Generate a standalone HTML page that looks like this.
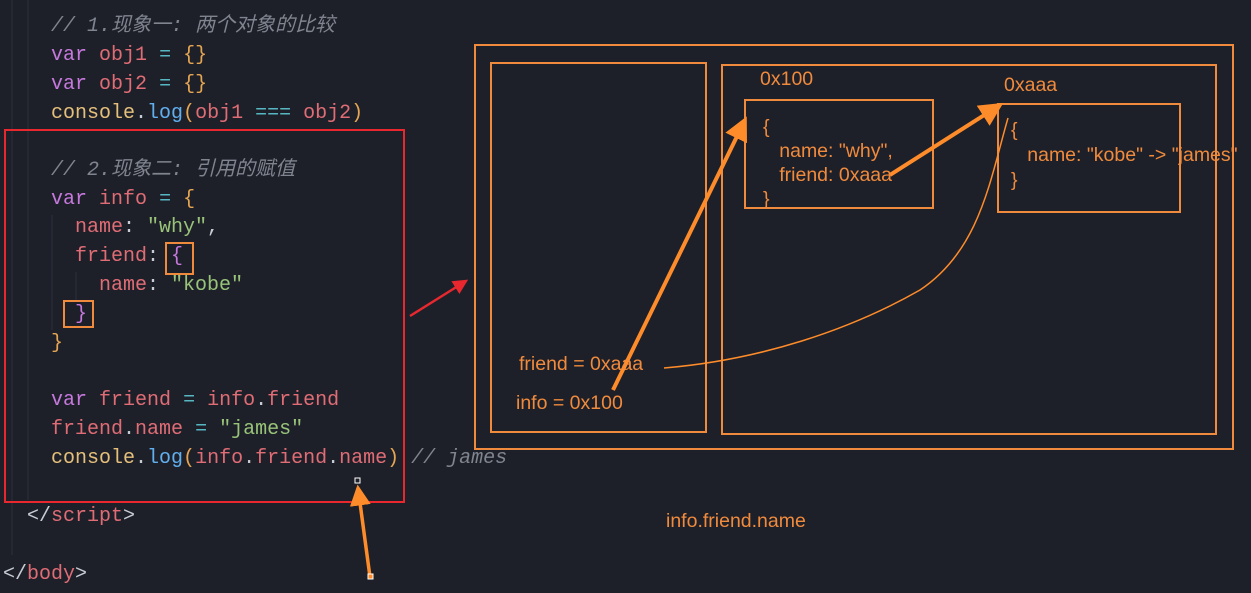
<!DOCTYPE html>
<html><head><meta charset="utf-8"><style>
body{margin:0;width:1251px;height:593px;background:#1e2029;overflow:hidden;position:relative;font-family:"Liberation Mono","Noto Sans CJK SC",monospace}
.l{position:absolute;font-size:20px;white-space:pre;line-height:29px;color:#c8ccd4}
.k{color:#c678dd}.v{color:#e06c75}.o{color:#56b6c2}.b{color:#e5a552}.s{color:#98c379}.f{color:#61afef}.y{color:#e5c07b}.c{color:#7f848e;font-style:italic}.p{color:#c8ccd4}
.d{position:absolute;font-family:"Liberation Sans","Noto Sans CJK SC",sans-serif;font-size:19.5px;color:#f08a3c;white-space:pre;line-height:24px}
</style></head><body>
<div>
<div class="l" style="left:51px;top:12px"><span class="c">// 1.现象一: 两个对象的比较</span></div>
<div class="l" style="left:51px;top:41px"><span class="k">var</span> <span class="v">obj1</span> <span class="o">=</span> <span class="b">{}</span></div>
<div class="l" style="left:51px;top:70px"><span class="k">var</span> <span class="v">obj2</span> <span class="o">=</span> <span class="b">{}</span></div>
<div class="l" style="left:51px;top:99px"><span class="y">console</span>.<span class="f">log</span><span class="b">(</span><span class="v">obj1</span> <span class="o">===</span> <span class="v">obj2</span><span class="b">)</span></div>
<div class="l" style="left:51px;top:156px"><span class="c">// 2.现象二: 引用的赋值</span></div>
<div class="l" style="left:51px;top:185px"><span class="k">var</span> <span class="v">info</span> <span class="o">=</span> <span class="b">{</span></div>
<div class="l" style="left:75px;top:213px"><span class="v">name</span>: <span class="s">"why"</span>,</div>
<div class="l" style="left:75px;top:242px"><span class="v">friend</span>: <span class="k">{</span></div>
<div class="l" style="left:99px;top:271px"><span class="v">name</span>: <span class="s">"kobe"</span></div>
<div class="l" style="left:75px;top:300px"><span class="k">}</span></div>
<div class="l" style="left:51px;top:329px"><span class="b">}</span></div>
<div class="l" style="left:51px;top:386px"><span class="k">var</span> <span class="v">friend</span> <span class="o">=</span> <span class="v">info</span>.<span class="v">friend</span></div>
<div class="l" style="left:51px;top:415px"><span class="v">friend</span>.<span class="v">name</span> <span class="o">=</span> <span class="s">"james"</span></div>
<div class="l" style="left:51px;top:444px"><span class="y">console</span>.<span class="f">log</span><span class="b">(</span><span class="v">info</span>.<span class="v">friend</span>.<span class="v">name</span><span class="b">)</span> <span class="c">// james</span></div>
<div class="l" style="left:27px;top:502px"><span class="p">&lt;/</span><span class="v">script</span><span class="p">&gt;</span></div>
<div class="l" style="left:3px;top:560px"><span class="p">&lt;/</span><span class="v">body</span><span class="p">&gt;</span></div>
</div>
<svg width="1251" height="593" style="position:absolute;left:0;top:0">
<defs><marker id="ah" markerWidth="6" markerHeight="6" refX="5" refY="3" orient="auto"><path d="M0,0 L6,3 L0,6 Z" fill="#ff8c2a"/></marker>
<marker id="ar" markerWidth="6" markerHeight="6" refX="5" refY="3" orient="auto"><path d="M0,0 L6,3 L0,6 Z" fill="#e8282e"/></marker></defs>
<g stroke="#2c2f3a" stroke-width="1">
<line x1="12" y1="0" x2="12" y2="555"/><line x1="28" y1="0" x2="28" y2="500"/><line x1="52" y1="215" x2="52" y2="330"/><line x1="76" y1="272" x2="76" y2="300"/>
</g>
<rect x="5" y="130" width="399" height="372" fill="none" stroke="#e8282e" stroke-width="2"/>
<rect x="166" y="243" width="27" height="31" fill="none" stroke="#f08a3c" stroke-width="2"/>
<rect x="64" y="301" width="29" height="26" fill="none" stroke="#f08a3c" stroke-width="2"/>
<line x1="410" y1="316" x2="466" y2="281" stroke="#e8282e" stroke-width="2.5" marker-end="url(#ar)"/>
<rect x="475" y="45" width="758" height="404" fill="none" stroke="#f08a3c" stroke-width="2"/>
<rect x="491" y="63" width="215" height="369" fill="none" stroke="#f08a3c" stroke-width="2"/>
<rect x="722" y="65" width="494" height="369" fill="none" stroke="#f08a3c" stroke-width="2"/>
<rect x="745" y="100" width="188" height="108" fill="none" stroke="#f08a3c" stroke-width="2"/>
<rect x="998" y="104" width="182" height="108" fill="none" stroke="#f08a3c" stroke-width="2"/>
<line x1="613" y1="390" x2="745" y2="120" stroke="#ff8c2a" stroke-width="4" marker-end="url(#ah)"/>
<line x1="890" y1="175" x2="1000" y2="105" stroke="#ff8c2a" stroke-width="4" marker-end="url(#ah)"/>
<path d="M664,368 C760,360 850,330 920,290 C980,250 990,180 1008,118" fill="none" stroke="#ff8c2a" stroke-width="1.5"/>
<line x1="370" y1="577" x2="358" y2="488" stroke="#ff8c2a" stroke-width="3.5" marker-end="url(#ah)"/>
<rect x="355" y="478" width="5" height="5" fill="none" stroke="#fff" stroke-width="1"/>
<rect x="368" y="574" width="5" height="5" fill="#ff8c2a" stroke="#fff" stroke-width="1"/>
</svg>
<div class="d" style="left:760px;top:67px">0x100</div>
<div class="d" style="left:1004px;top:73px">0xaaa</div>
<div class="d" style="left:763px;top:115px">{
   name: "why",
   friend: 0xaaa
}</div>
<div class="d" style="left:1011px;top:118px;line-height:25px">{
   name: "kobe" -> "james"
}</div>
<div class="d" style="left:519px;top:352px">friend = 0xaaa</div>
<div class="d" style="left:516px;top:391px">info = 0x100</div>
<div class="d" style="left:666px;top:509px">info.friend.name</div>
</body></html>
